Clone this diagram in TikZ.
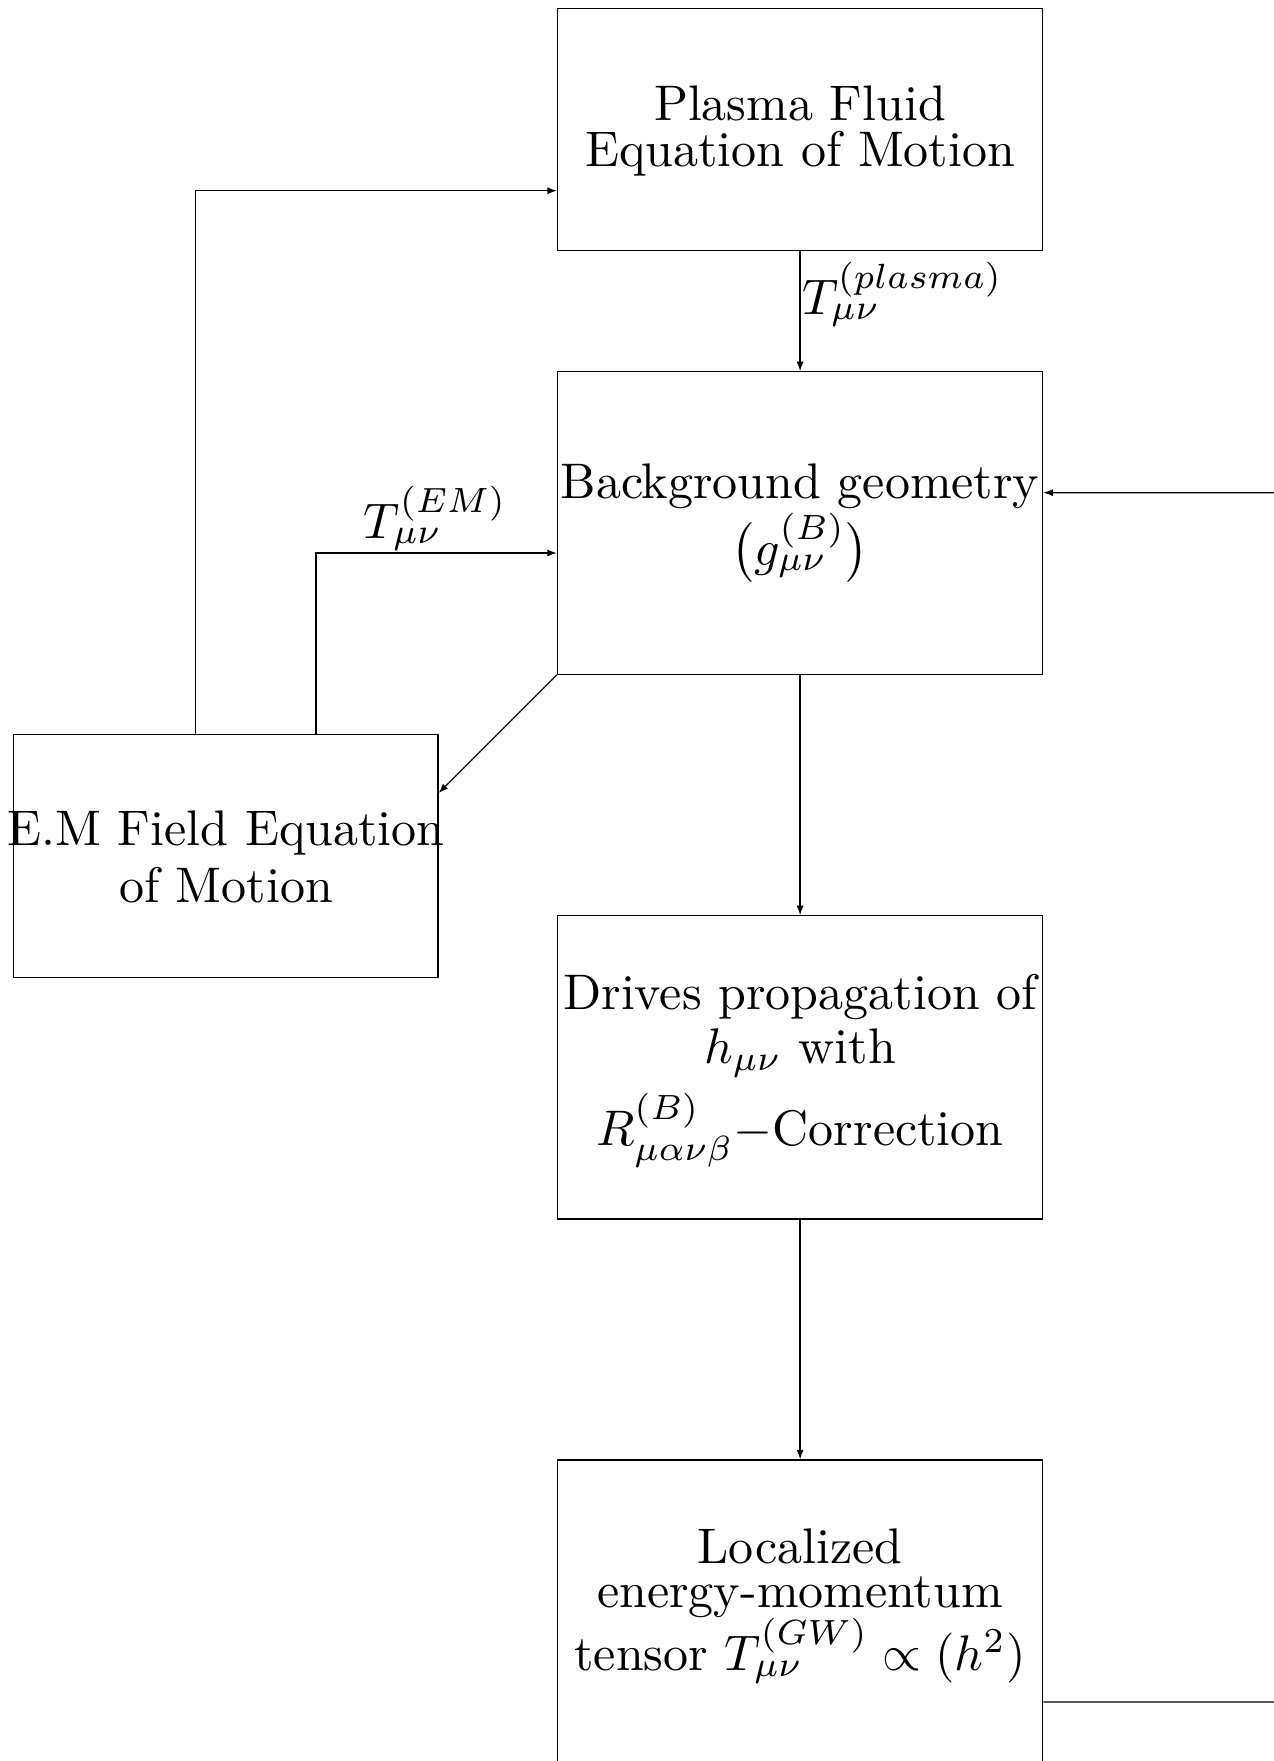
\documentclass[tikz,border=0pt]{standalone}
\usetikzlibrary{arrows.meta}
\begin{document}
\begin{tikzpicture}[x=0.2pt,y=-0.2pt,
  box/.style={draw, line width=0.25pt, inner sep=0pt, minimum width=97.04pt},
  txt/.style={inner sep=0pt, anchor=base},
  arr/.style={line width=0.25pt, -{Latex[length=1.9pt,width=1.4pt]}},
  wire/.style={line width=0.25pt}]
\useasboundingbox (0,0) rectangle (1274,1761);
% boxes
\node[box, minimum height=48.48pt] (plasma) at (800.1,129.5) {};
\node[box, minimum height=60.52pt] (bg) at (800.1,523) {};
\node[box, minimum height=60.66pt] (drv) at (800.1,1067.35) {};
\node[box, minimum height=60.6pt] (loc) at (800.1,1611.5) {};
\node[box, minimum width=84.92pt, minimum height=48.6pt] (em) at (225.7,855.8) {};
% texts
\node[txt] (plasmaA) at (800,120.7) {Plasma Fluid};
\node[txt] (plasmaB) at (800,166.7) {Equation of Motion};
\node[txt] (bgA) at (800,498) {Background geometry};
\node[txt] (bgB) at (800,565) {$\bigl(g^{(B)}_{\mu\nu}\bigr)$};
\node[txt] (drvA) at (800,1009) {Drives propagation of};
\node[txt] (drvB) at (800,1063) {$h_{\mu\nu}$ with};
\node[txt] (drvC) at (800,1145) {$R^{(B)}_{\mu\alpha\nu\beta}-$Correction};
\node[txt] (locA) at (800,1563.4) {Localized};
\node[txt] (locB) at (800,1607) {energy-momentum};
\node[txt] (locC) at (800,1670.6) {tensor $T^{(GW)}_{\mu\nu}\propto(h^2)$};
\node[txt] (emA) at (226,845) {E.M Field Equation};
\node[txt] (emB) at (226,902.7) {of Motion};
% labels
\node[inner sep=0pt, anchor=base west] (lplasma) at (801,314) {$T^{(plasma)}_{\mu\nu}$};
\node[inner sep=0pt, anchor=base] (lem) at (435.5,538) {$T^{(EM)}_{\mu\nu}$};
% connectors
\draw[arr] (plasma.south) -- (bg.north);
\draw[arr] ([xshift=-6.04pt]em.north) |- ([yshift=-12.24pt]plasma.west);
\draw[arr] ([xshift=18.06pt]em.north) |- ([yshift=-6pt]bg.west);
\draw[arr] (bg.south west) -- ([yshift=12.56pt]em.east);
\draw[arr] (bg.south) -- (drv.north);
\draw[arr] (drv.south) -- (loc.north);
\coordinate (rin) at (1274,492.7);
\coordinate (rout) at (1274,1702);
\draw[arr] (rin) -- ([yshift=6.06pt]bg.east);
\draw[wire] ([yshift=-18.1pt]loc.east) -- (rout);
\end{tikzpicture}
\end{document}
